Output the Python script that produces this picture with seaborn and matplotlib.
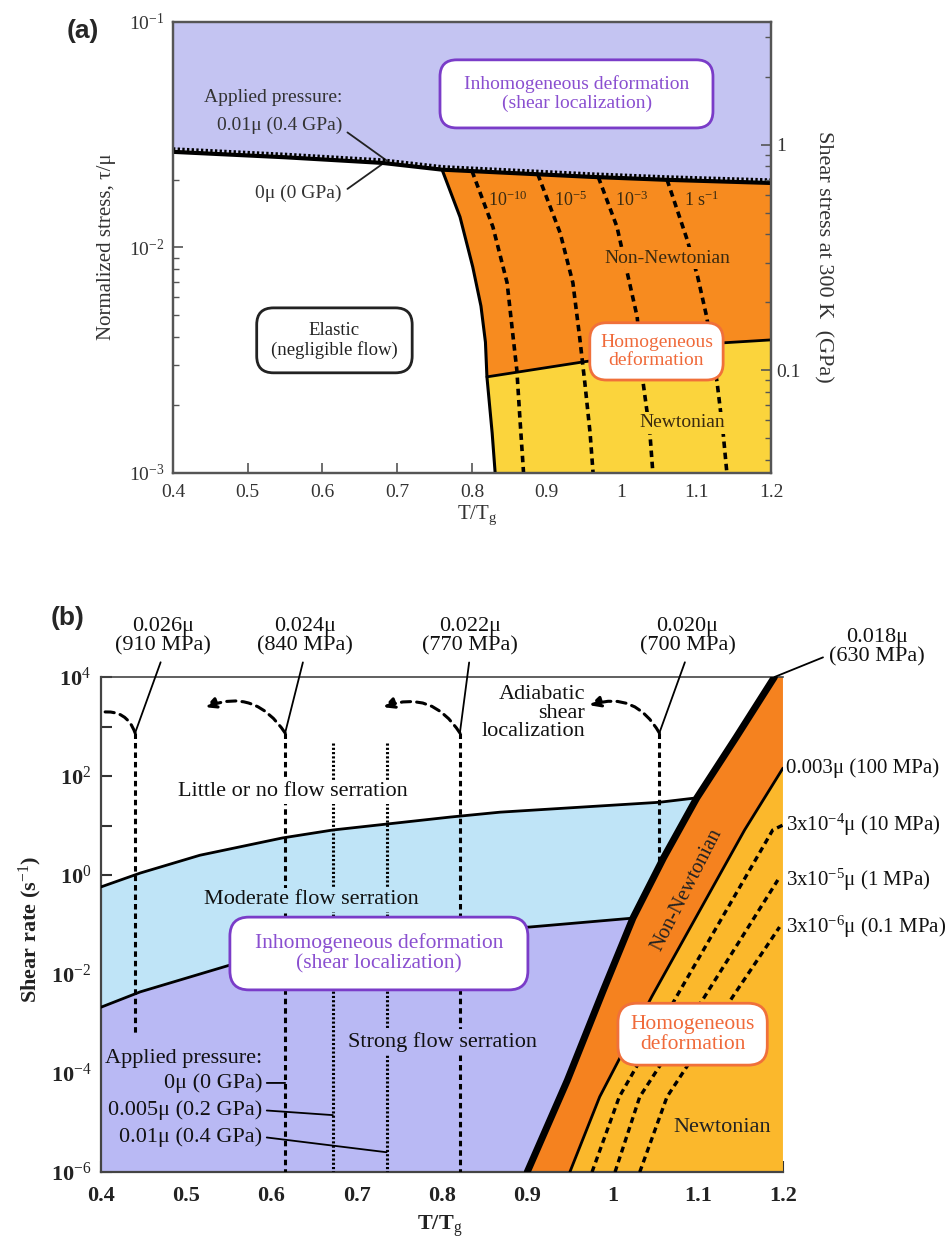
import numpy as np
import matplotlib
matplotlib.use("Agg")
import matplotlib.pyplot as plt
from matplotlib.patches import FancyBboxPatch
import matplotlib.ticker as mticker
import seaborn as sns

# ======================= DATA: panel (a) =======================
# log10(tau/mu) versus T/Tg
a_T_boundary = [0.40, 0.55, 0.68, 0.76, 0.96, 1.06, 1.20]
a_log_0GPa = [-1.576, -1.600, -1.625, -1.655, -1.687, -1.700, -1.714]
a_log_04GPa = [-1.563, -1.587, -1.612, -1.642, -1.674, -1.687, -1.701]
a_T_glass = [0.760, 0.784, 0.801, 0.812, 0.818, 0.820, 0.827, 0.831]
a_log_glass = [-1.655, -1.865, -2.086, -2.260, -2.420, -2.574, -2.823, -3.000]
a_T_newt = [0.820, 0.948, 1.136, 1.200]
a_log_newt = [-2.574, -2.508, -2.423, -2.410]
a_rate_names = ["10$^{-10}$", "10$^{-5}$", "10$^{-3}$", "1 s$^{-1}$"]
a_rate_T = [
    [0.800, 0.828, 0.847, 0.855, 0.860, 0.864, 0.869],
    [0.888, 0.918, 0.935, 0.944, 0.951, 0.958, 0.962],
    [0.969, 0.994, 1.009, 1.021, 1.029, 1.038, 1.042],
    [1.061, 1.088, 1.102, 1.114, 1.128, 1.136, 1.141],
]
a_rate_log = [
    [-1.661, -1.909, -2.157, -2.397, -2.543, -2.752, -3.000],
    [-1.675, -1.936, -2.157, -2.397, -2.601, -2.823, -3.000],
    [-1.688, -1.909, -2.131, -2.308, -2.601, -2.823, -3.000],
    [-1.700, -1.967, -2.131, -2.308, -2.601, -2.823, -3.000],
]
a_mu_GPa = 35.0
a_xticks = [0.4, 0.5, 0.6, 0.7, 0.8, 0.9, 1.0, 1.1, 1.2]
a_xticklabels = ["0.4", "0.5", "0.6", "0.7", "0.8", "0.9", "1", "1.1", "1.2"]

# ======================= DATA: panel (b) =======================
# log10(shear rate) versus T/Tg
b_T_thick = [0.900, 0.947, 0.989, 1.024, 1.060, 1.099, 1.145, 1.190]
b_log_thick = [-6.00, -4.15, -2.34, -0.87, 0.35, 1.56, 2.78, 4.00]
b_T_thin = [0.950, 0.985, 1.046, 1.155, 1.200]
b_log_thin = [-6.00, -4.48, -2.46, 0.91, 2.16]
b_T_upper = [0.400, 0.446, 0.516, 0.613, 0.672, 0.809, 0.868, 1.055, 1.099]
b_log_upper = [-0.24, 0.04, 0.40, 0.75, 0.91, 1.17, 1.27, 1.47, 1.56]
b_T_lower = [0.400, 0.446, 0.551, 0.633, 0.774, 0.903, 1.024]
b_log_lower = [-2.67, -2.36, -1.82, -1.52, -1.21, -1.05, -0.87]
b_iso_T = [
    [0.976, 1.008, 1.075, 1.188, 1.200],
    [1.003, 1.032, 1.108, 1.194],
    [1.032, 1.064, 1.141, 1.196],
]
b_iso_log = [
    [-6.00, -4.48, -2.46, 0.91, 1.01],
    [-6.00, -4.48, -2.46, -0.10],
    [-6.00, -4.48, -2.46, -1.05],
]
b_right_labels = ["0.003\u03bc (100 MPa)", "3x10$^{-4}$\u03bc (10 MPa)",
                  "3x10$^{-5}$\u03bc (1 MPa)", "3x10$^{-6}$\u03bc (0.1 MPa)"]
b_stress_labels = ["0.026\u03bc\n(910 MPa)", "0.024\u03bc\n(840 MPa)",
                   "0.022\u03bc\n(770 MPa)", "0.020\u03bc\n(700 MPa)"]
b_stress_T = [0.440, 0.616, 0.821, 1.055]
b_stress_top = [2.87, 2.87, 2.87, 2.87]
b_stress_bottom = [-3.23, -6.00, -6.00, 0.25]
b_hook_T = [0.401, 0.522, 0.731, 0.973]
b_hook_log = [3.29, 3.39, 3.39, 3.43]
b_press_T = [0.672, 0.735]
b_press_top = [2.67, 2.67]
b_press_bottom = [-6.0, -6.0]
b_xticks = [0.4, 0.5, 0.6, 0.7, 0.8, 0.9, 1.0, 1.1, 1.2]
b_xticklabels = ["0.4", "0.5", "0.6", "0.7", "0.8", "0.9", "1", "1.1", "1.2"]
b_yexp = [-6, -5, -4, -3, -2, -1, 0, 1, 2, 3, 4]

# ======================= STYLE =======================
sns.set_theme(style="ticks")
plt.rcParams["font.family"] = ["Liberation Serif", "DejaVu Serif"]
plt.rcParams["mathtext.fontset"] = "custom"
plt.rcParams["mathtext.rm"] = "Liberation Serif"
plt.rcParams["mathtext.it"] = "Liberation Serif:italic"
plt.rcParams["mathtext.bf"] = "Liberation Serif:bold"

A_LAV, A_ORG, A_YEL = "#c4c4f2", "#f78b1f", "#fbd43c"
B_LAV, B_BLUE, B_ORG, B_YEL = "#b9b9f4", "#bfe4f7", "#f5821f", "#fbb82c"
PURPLE_EDGE, PURPLE_TXT = "#7a3cc8", "#8a4fd0"
ORANGE_EDGE, ORANGE_TXT = "#f0703a", "#f06a3a"
SPINE = "#555555"
DASH = (0, (1.8, 1.3))
DOT = (0, (0.7, 0.7))
FB = 16  # panel (b) annotation font size


def P(v):
    return 10.0 ** np.asarray(v, dtype=float)


def line(ax, T, lg, **kw):
    sns.lineplot(x=np.asarray(T, float), y=P(lg), sort=False, estimator=None,
                 ax=ax, legend=False, **kw)


def rbox(ax, x0, y0, x1, y1, ec, aspect, lw=2.0):
    ax.add_patch(FancyBboxPatch((x0, y0), x1 - x0, y1 - y0,
                                boxstyle="round,pad=0,rounding_size=0.028",
                                mutation_aspect=aspect, transform=ax.transAxes,
                                fc="white", ec=ec, lw=lw, zorder=8, clip_on=False))


fig = plt.figure(figsize=(9.51, 12.40), dpi=100)

# ======================= PANEL (a) =======================
axA = fig.add_axes([0.1819, 0.6186, 0.6288, 0.3637])
axA.set_yscale("log")
axA.set_xlim(0.4, 1.2)
axA.set_ylim(1e-3, 1e-1)

J = a_T_glass.index(a_T_newt[0])  # junction of glass curve and Newtonian boundary
axA.fill_between(a_T_boundary, P(a_log_04GPa), 0.1, color=A_LAV, lw=0, zorder=1)
org_T = a_T_glass[:J + 1] + a_T_newt[1:] + a_T_boundary[::-1][:4]
org_L = a_log_glass[:J + 1] + a_log_newt[1:] + a_log_0GPa[::-1][:4]
axA.fill(org_T, P(org_L), color=A_ORG, lw=0, zorder=1)
yel_T = a_T_newt + [a_T_newt[-1]] + a_T_glass[J + 1:][::-1]
yel_L = a_log_newt + [a_log_glass[-1]] + a_log_glass[J + 1:][::-1]
axA.fill(yel_T, P(yel_L), color=A_YEL, lw=0, zorder=1)

for T, lg in zip(a_rate_T, a_rate_log):
    line(axA, T, lg, color="black", lw=2.6, linestyle=DASH, zorder=3)
for T, lg, name in zip(a_rate_T, a_rate_log, a_rate_names):
    axA.text(T[0] + 0.022, P(-1.79), name, fontsize=13, color="#3a2a10",
             ha="left", va="center", zorder=5)

line(axA, a_T_glass, a_log_glass, color="black", lw=2.2, zorder=4)
line(axA, a_T_newt, a_log_newt, color="black", lw=2.0, zorder=4)
line(axA, a_T_boundary, a_log_0GPa, color="black", lw=3.0, zorder=4)
line(axA, a_T_boundary, a_log_04GPa, color="black", lw=2.4, linestyle=DOT, zorder=4)

rbox(axA, 0.4465, 0.765, 0.903, 0.916, PURPLE_EDGE, 598 / 451)
axA.text(0.675, 0.8405, "Inhomogeneous deformation\n(shear localization)", transform=axA.transAxes,
         ha="center", va="center", fontsize=14, color=PURPLE_TXT, zorder=9, linespacing=1.1)
rbox(axA, 0.140, 0.222, 0.400, 0.366, "#222222", 598 / 451)
axA.text(0.270, 0.294, "Elastic\n(negligible flow)", transform=axA.transAxes,
         ha="center", va="center", fontsize=13.5, color="#222222", zorder=9, linespacing=1.15)
rbox(axA, 0.697, 0.206, 0.920, 0.333, ORANGE_EDGE, 598 / 451)
axA.text(0.8085, 0.2695, "Homogeneous\ndeformation", transform=axA.transAxes,
         ha="center", va="center", fontsize=14, color=ORANGE_TXT, zorder=9, linespacing=1.1)
axA.text(1.062, P(-2.047), "Non-Newtonian", ha="center", va="center", fontsize=14,
         color="#3a2a10", zorder=5, bbox=dict(fc=A_ORG, ec="none", pad=2))
axA.text(1.081, P(-2.778), "Newtonian", ha="center", va="center", fontsize=14,
         color="#3a2a10", zorder=5, bbox=dict(fc=A_YEL, ec="none", pad=2))

axA.text(0.626, P(-1.337), "Applied pressure:", ha="right", va="center", fontsize=14, color="#333333")
axA.annotate("0.01\u03bc (0.4 GPa)", xy=(0.686, P(-1.615)), xytext=(0.626, P(-1.457)),
             ha="right", va="center", fontsize=14, color="#333333",
             arrowprops=dict(arrowstyle="-", color="#222222", lw=1.3, shrinkA=2, shrinkB=0,
                             relpos=(1.0, 0.3)))
axA.annotate("0\u03bc (0 GPa)", xy=(0.681, P(-1.628)), xytext=(0.626, P(-1.758)),
             ha="right", va="center", fontsize=14, color="#333333",
             arrowprops=dict(arrowstyle="-", color="#222222", lw=1.3, shrinkA=2, shrinkB=0,
                             relpos=(1.0, 0.5)))

axA.set_xticks(a_xticks)
axA.set_xticklabels(a_xticklabels)
axA.yaxis.set_major_locator(mticker.FixedLocator([1e-3, 1e-2, 1e-1]))
axA.yaxis.set_major_formatter(mticker.FixedFormatter(["10$^{-3}$", "10$^{-2}$", "10$^{-1}$"]))
axA.yaxis.set_minor_locator(mticker.LogLocator(base=10, subs=np.arange(2, 10), numticks=20))
axA.yaxis.set_minor_formatter(mticker.NullFormatter())
axA.tick_params(which="both", direction="in", color=SPINE, labelcolor="#333333", labelsize=14,
                right=False, top=False)
axA.tick_params(axis="x", pad=8)
axA.tick_params(axis="y", pad=6)
axA.tick_params(which="major", length=7, width=1.2)
axA.tick_params(which="minor", length=4, width=1.0)
for s in axA.spines.values():
    s.set_color(SPINE)
    s.set_linewidth(1.6)

axA2 = axA.twinx()
axA2.set_yscale("log")
axA2.set_ylim(1e-3 * a_mu_GPa, 1e-1 * a_mu_GPa)
axA2.yaxis.set_major_locator(mticker.FixedLocator([0.1, 1.0]))
axA2.yaxis.set_major_formatter(mticker.FixedFormatter(["0.1", "1"]))
axA2.yaxis.set_minor_locator(mticker.LogLocator(base=10, subs=np.arange(2, 10), numticks=20))
axA2.yaxis.set_minor_formatter(mticker.NullFormatter())
axA2.tick_params(which="both", direction="in", color=SPINE, labelcolor="#333333", labelsize=14)
axA2.tick_params(which="major", length=7, width=1.2)
axA2.tick_params(which="minor", length=4, width=1.0)
for s in axA2.spines.values():
    s.set_color(SPINE)
    s.set_linewidth(1.6)

axA.text(0.508, -0.094, "T/T$_{\\mathrm{g}}$", transform=axA.transAxes, ha="center", va="center",
         fontsize=15, color="#333333")
axA.text(-0.112, 0.501, "Normalized stress, \u03c4/\u03bc", transform=axA.transAxes,
         ha="center", va="center", rotation=90, fontsize=15, color="#333333")
axA.text(1.087, 0.479, "Shear stress at 300 K  (GPa)", transform=axA.transAxes,
         ha="center", va="center", rotation=270, fontsize=16, color="#333333")

# ======================= PANEL (b) =======================
axB = fig.add_axes([0.1062, 0.0548, 0.7171, 0.3992])
axB.set_yscale("log")
axB.set_xlim(0.4, 1.2)
axB.set_ylim(1e-6, 1e4)

lav_T = b_T_lower + b_T_thick[2::-1] + [0.4]
lav_L = b_log_lower + b_log_thick[2::-1] + [-6.0]
axB.fill(lav_T, P(lav_L), color=B_LAV, lw=0, zorder=1)
blu_T = b_T_upper + b_T_thick[4:2:-1] + b_T_lower[::-1]
blu_L = b_log_upper + b_log_thick[4:2:-1] + b_log_lower[::-1]
axB.fill(blu_T, P(blu_L), color=B_BLUE, lw=0, zorder=1)
org_T = b_T_thick + [1.2] + b_T_thin[::-1]
org_L = b_log_thick + [b_log_thick[-1]] + b_log_thin[::-1]
axB.fill(org_T, P(org_L), color=B_ORG, lw=0, zorder=1)
yel_T = b_T_thin + [1.2]
yel_L = b_log_thin + [-6.0]
axB.fill(yel_T, P(yel_L), color=B_YEL, lw=0, zorder=1)

line(axB, b_T_upper, b_log_upper, color="black", lw=2.0, zorder=4)
line(axB, b_T_lower, b_log_lower, color="black", lw=2.0, zorder=4)
line(axB, b_T_thin, b_log_thin, color="black", lw=2.0, zorder=4)
for T, lg in zip(b_iso_T, b_iso_log):
    line(axB, T, lg, color="black", lw=2.4, linestyle=DASH, zorder=4)
line(axB, b_T_thick, b_log_thick, color="black", lw=5.0, zorder=5)

lab_T = [0.473, 0.639, 0.833, 1.088]
for i, (T, top, bot, lab) in enumerate(zip(b_stress_T, b_stress_top, b_stress_bottom, b_stress_labels)):
    line(axB, [T, T], [top, bot], color="black", lw=2.2, linestyle=DASH, zorder=3)
    style = "-" if i == 0 else "-|>"
    axB.annotate("", xy=(b_hook_T[i], P(b_hook_log[i])), xytext=(T, P(top)),
                 arrowprops=dict(arrowstyle=style, connectionstyle="arc3,rad=0.4",
                                 color="black", lw=2.2, linestyle=(0, (3.0, 2.0)),
                                 mutation_scale=16, shrinkA=0, shrinkB=0),
                 zorder=3)
    axB.annotate(lab, xy=(T, P(top)), xytext=(lab_T[i], P(4.83)), ha="center", va="center",
                 fontsize=FB, color="#111111", annotation_clip=False, linespacing=1.0,
                 arrowprops=dict(arrowstyle="-", color="black", lw=1.3, shrinkA=3, shrinkB=0,
                                 relpos=(0.5, 0.0)))
for T, top, bot in zip(b_press_T, b_press_top, b_press_bottom):
    line(axB, [T, T], [top, bot], color="black", lw=2.2, linestyle=DOT, zorder=3)

axB.annotate("0.018\u03bc\n(630 MPa)", xy=(b_T_thick[-1], P(b_log_thick[-1])),
             xytext=(1.310, P(4.60)), ha="center", va="center", fontsize=FB,
             color="#111111", annotation_clip=False, linespacing=1.0,
             arrowprops=dict(arrowstyle="-", color="black", lw=1.3, shrinkA=2, shrinkB=0,
                             relpos=(0.0, 0.3)))

right_ends = [b_log_thin[-1]] + [lg[-1] for lg in b_iso_log]
for lab, lg in zip(b_right_labels, right_ends):
    axB.text(1.203, P(lg), lab, ha="left", va="center", fontsize=15, color="#111111",
             clip_on=False)

axB.text(0.968, P(3.27), "Adiabatic\nshear\nlocalization", ha="right", va="center",
         multialignment="right", fontsize=FB, color="#111111", linespacing=0.95, zorder=6)
axB.text(0.625, P(1.68), "Little or no flow serration", ha="center", va="center",
         fontsize=FB, color="#111111", zorder=6, bbox=dict(fc="white", ec="none", pad=2))
axB.text(0.647, P(-0.50), "Moderate flow serration", ha="center", va="center",
         fontsize=FB, color="#111111", zorder=6, bbox=dict(fc=B_BLUE, ec="none", pad=2))
axB.text(0.801, P(-3.37), "Strong flow serration", ha="center", va="center",
         fontsize=FB, color="#111111", zorder=6, bbox=dict(fc=B_LAV, ec="none", pad=2))
rbox(axB, 0.189, 0.368, 0.626, 0.515, PURPLE_EDGE, 682 / 495)
axB.text(0.4075, 0.4415, "Inhomogeneous deformation\n(shear localization)", transform=axB.transAxes,
         ha="center", va="center", fontsize=15.5, color=PURPLE_TXT, zorder=9, linespacing=1.1)
rbox(axB, 0.758, 0.216, 0.977, 0.341, ORANGE_EDGE, 682 / 495)
axB.text(0.8675, 0.2785, "Homogeneous\ndeformation", transform=axB.transAxes,
         ha="center", va="center", fontsize=15.5, color=ORANGE_TXT, zorder=9, linespacing=1.05)
axB.text(1.087, P(-0.30), "Non-Newtonian", ha="center", va="center", rotation=63,
         fontsize=15, color="#222222", zorder=6)
axB.text(1.129, P(-5.09), "Newtonian", ha="center", va="center", fontsize=FB,
         color="#222222", zorder=6)

axB.text(0.405, P(-3.70), "Applied pressure:", ha="left", va="center", fontsize=FB, color="#111111")
press_lab = ["0\u03bc (0 GPa)", "0.005\u03bc (0.2 GPa)", "0.01\u03bc (0.4 GPa)"]
press_lab_y = [-4.20, -4.75, -5.29]
press_tgt = [(b_stress_T[1], -4.20), (b_press_T[0], -4.85), (b_press_T[1], -5.60)]
for lab, ly, (tx, ty) in zip(press_lab, press_lab_y, press_tgt):
    axB.annotate(lab, xy=(tx, P(ty)), xytext=(0.589, P(ly)), ha="right", va="center",
                 fontsize=FB, color="#111111",
                 arrowprops=dict(arrowstyle="-", color="black", lw=1.3, shrinkA=1, shrinkB=0,
                                 relpos=(1.0, 0.5)))

axB.set_xticks(b_xticks)
axB.set_xticklabels(b_xticklabels)
axB.yaxis.set_major_locator(mticker.FixedLocator([10.0 ** e for e in b_yexp]))
axB.yaxis.set_major_formatter(mticker.FixedFormatter(
    ["10$^{%d}$" % e if e % 2 == 0 else "" for e in b_yexp]))
axB.yaxis.set_minor_locator(mticker.NullLocator())
axB.tick_params(which="major", direction="in", length=8, width=1.5, color="#333333",
                labelsize=16, labelcolor="#222222", right=False, top=False)
axB.tick_params(axis="x", pad=10)
axB.tick_params(axis="y", pad=7)
for lab in axB.get_xticklabels() + axB.get_yticklabels():
    lab.set_fontweight("bold")
axB.spines["right"].set_visible(False)
for k in ["left", "bottom", "top"]:
    axB.spines[k].set_color("#444444")
    axB.spines[k].set_linewidth(1.6)
axB.spines["top"].set_linewidth(1.2)

axB.text(0.497, -0.109, "T/T$_{\\mathrm{g}}$", transform=axB.transAxes, ha="center", va="center",
         fontsize=16, fontweight="bold", color="#222222")
axB.text(-0.104, 0.489, "Shear rate (s$^{-1}$)", transform=axB.transAxes, ha="center",
         va="center", rotation=90, fontsize=16, fontweight="bold", color="#222222")

fig.text(83 / 951, 1 - 31 / 1240, "(a)", ha="center", va="center", fontsize=19,
         fontweight="bold", family=["Liberation Sans", "DejaVu Sans"])
fig.text(68 / 951, 1 - 618 / 1240, "(b)", ha="center", va="center", fontsize=19,
         fontweight="bold", family=["Liberation Sans", "DejaVu Sans"])

fig.savefig("out.png", dpi=100)
